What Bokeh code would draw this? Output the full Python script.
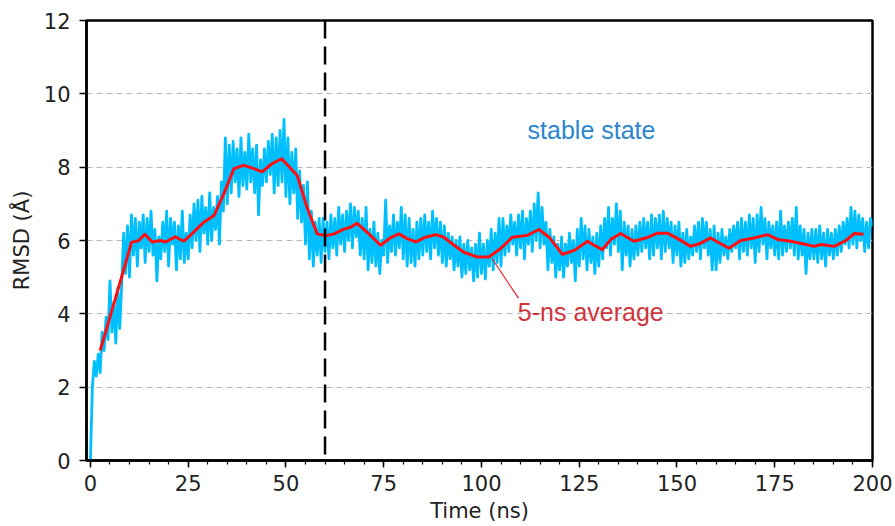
import numpy as np
from bokeh.plotting import figure
from bokeh.models import Range1d, SingleIntervalTicker, Span, Label
from bokeh.embed import file_html
from bokeh.resources import INLINE

# ---------------- data ----------------
# RMSD trace, sampled every 0.5 ns from 0 to 200 ns
rmsd_000_050 = [
    0.0, 2.0, 2.7, 2.3, 2.9, 2.4, 3.5, 3.0, 3.9, 3.3,
    4.9, 3.5, 4.3, 3.2, 4.7, 3.6, 4.8, 6.2, 5.1, 6.4,
    5.0, 6.7, 5.6, 6.6, 5.3, 6.5, 5.8, 6.7, 5.4, 6.6,
    5.7, 6.8, 5.6, 6.3, 4.9, 6.1, 5.5, 6.5, 5.7, 6.8,
    5.3, 6.6, 5.9, 6.5, 5.2, 6.4, 5.5, 6.8, 5.4, 6.2,
    5.5, 6.7, 5.8, 7.0, 6.0, 7.1, 5.7, 7.2, 6.2, 6.9,
    5.9, 7.3, 6.0, 6.9, 6.3, 7.2, 5.9, 7.6, 6.8, 8.8,
    7.0, 8.6, 7.3, 8.7, 7.6, 8.5, 7.2, 8.8, 7.5, 8.4,
    7.4, 8.9, 7.6, 8.5, 7.3, 8.6, 6.7, 8.2, 7.5, 8.5,
    7.6, 8.7, 7.8, 8.9, 7.3, 8.8, 7.5, 9.0, 7.6, 9.3,
]
rmsd_050_100 = [
    7.2, 8.8, 7.0, 8.4, 7.3, 8.5, 6.6, 7.9, 6.5, 7.5,
    5.9, 7.6, 5.5, 6.8, 5.3, 6.5, 5.6, 6.6, 5.4, 6.6,
    5.7, 6.5, 5.5, 6.7, 5.8, 6.6, 5.6, 6.9, 5.9, 6.7,
    5.7, 6.8, 6.0, 7.0, 5.8, 6.9, 6.1, 6.8, 5.6, 6.6,
    5.5, 6.9, 5.2, 6.3, 5.4, 6.5, 5.3, 6.2, 5.1, 6.0,
    5.6, 7.1, 5.4, 6.4, 5.7, 6.7, 5.6, 6.5, 5.8, 6.9,
    5.5, 6.7, 5.3, 6.6, 5.4, 6.3, 5.3, 6.5, 5.5, 6.6,
    5.6, 6.7, 5.7, 6.5, 5.5, 6.8, 5.8, 6.6, 5.6, 6.5,
    5.4, 6.4, 5.3, 6.2, 5.5, 6.1, 5.2, 6.0, 5.3, 6.1,
    5.0, 5.9, 5.1, 6.0, 5.2, 5.8, 4.9, 5.9, 5.0, 6.2,
]
rmsd_100_150 = [
    5.1, 5.9, 4.95, 6.0, 5.3, 6.3, 5.2, 6.2, 5.4, 6.6,
    5.3, 6.6, 5.6, 6.4, 5.7, 6.7, 5.9, 6.5, 5.6, 6.7,
    5.8, 6.8, 5.5, 6.6, 5.9, 6.8, 5.7, 7.0, 6.0, 7.3,
    5.8, 6.9, 5.9, 6.5, 5.2, 6.3, 5.4, 6.1, 5.0, 5.9,
    5.2, 6.1, 5.0, 5.9, 5.3, 6.2, 5.4, 6.0, 4.9, 6.3,
    5.3, 6.6, 5.5, 6.4, 5.2, 6.3, 5.4, 6.1, 5.1, 6.2,
    5.3, 6.4, 5.5, 6.6, 5.8, 6.9, 5.6, 6.6, 5.9, 7.0,
    5.7, 6.8, 5.2, 6.5, 5.6, 6.4, 5.3, 6.3, 5.5, 6.4,
    5.6, 6.5, 5.7, 6.6, 5.8, 6.5, 5.5, 6.7, 5.6, 6.6,
    5.8, 6.7, 5.5, 6.8, 5.7, 6.6, 5.8, 6.5, 5.4, 6.4,
]
rmsd_150_200 = [
    5.6, 6.5, 5.3, 6.2, 5.4, 6.3, 5.5, 6.1, 5.6, 6.4,
    5.7, 6.5, 5.5, 6.6, 5.8, 6.5, 5.6, 6.3, 5.2, 6.4,
    5.2, 6.2, 5.4, 6.3, 5.6, 6.1, 5.5, 6.3, 5.7, 6.4,
    5.8, 6.5, 5.5, 6.6, 5.7, 6.5, 5.6, 6.7, 5.8, 6.6,
    5.4, 6.7, 5.7, 6.9, 5.9, 6.6, 5.5, 6.5, 5.8, 6.4,
    5.6, 6.5, 5.5, 6.8, 5.6, 6.4, 5.7, 6.5, 5.8, 6.6,
    5.6, 6.9, 5.5, 6.4, 5.6, 6.3, 5.1, 6.2, 5.5, 6.3,
    5.5, 6.3, 5.4, 6.4, 5.5, 6.2, 5.3, 6.3, 5.6, 6.2,
    5.5, 6.3, 5.6, 6.4, 5.7, 6.5, 5.9, 6.6, 5.8, 6.9,
    5.9, 6.8, 5.8, 6.7, 6.0, 6.6, 5.7, 6.5, 5.8, 6.6,
    6.4,
]
rmsd = rmsd_000_050 + rmsd_050_100 + rmsd_100_150 + rmsd_150_200
time_step_ns = 0.5
time_ns = [i * time_step_ns for i in range(len(rmsd))]

# 5-ns running average
avg_time = [2.5, 5.1, 8.7, 10.5, 12.4, 13.9, 15.8, 17.9, 19.2, 21.7, 23.9, 26.4,
            29.0, 31.6, 34.1, 36.7, 39.2, 41.8, 43.9, 46.5, 48.9, 52.9, 55.4, 58.0,
            60.1, 62.3, 64.8, 66.5, 68.2, 70.8, 74.2, 76.8, 78.9, 81.0, 83.2, 85.7,
            88.3, 90.4, 93.0, 95.5, 98.9, 101.9, 104.9, 107.9, 111.7, 114.7, 117.3,
            120.7, 123.7, 127.1, 128.8, 130.9, 133.1, 135.6, 139.0, 142.4, 145.0,
            147.6, 150.5, 153.5, 155.7, 158.6, 161.2, 163.3, 166.3, 169.7, 173.2,
            175.7, 179.1, 182.1, 185.1, 186.8, 190.2, 193.2, 195.3, 197.7]
avg_rmsd = [3.0, 3.95, 5.27, 5.95, 6.0, 6.17, 5.96, 6.0, 5.96, 6.1, 5.98, 6.23,
            6.5, 6.68, 7.27, 7.96, 8.05, 7.96, 7.87, 8.1, 8.23, 7.77, 6.9, 6.18,
            6.13, 6.18, 6.31, 6.36, 6.47, 6.22, 5.87, 6.08, 6.18, 6.05, 5.96, 6.09,
            6.16, 6.09, 5.87, 5.68, 5.55, 5.55, 5.78, 6.09, 6.14, 6.3, 6.09,
            5.62, 5.73, 5.98, 5.87, 5.75, 6.03, 6.19, 5.98, 6.08, 6.2,
            6.2, 6.03, 5.84, 5.91, 6.07, 5.91, 5.79, 6.0, 6.07, 6.16,
            6.03, 5.98, 5.91, 5.84, 5.89, 5.84, 6.0, 6.19, 6.17]

stable_start_ns = 60
stable_label = "stable state"
stable_label_pos = (111.8, 9.02)
avg_label = "5-ns average"
avg_label_pos = (109.3, 4.06)
avg_pointer_x = [102.7, 109.5]
avg_pointer_y = [5.51, 4.42]

x_ticks_major = 25
y_ticks_major = 2

# ---------------- figure ----------------
p = figure(width=895, height=526,
           x_range=Range1d(-1, 200), y_range=Range1d(0, 12),
           output_backend="svg", toolbar_location=None,
           min_border_left=86, min_border_right=23,
           min_border_top=20, min_border_bottom=66,
           background_fill_color="white", border_fill_color="white")

p.outline_line_color = "black"
p.outline_line_width = 2.5
p.outline_line_alpha = 1.0

p.xaxis.ticker = SingleIntervalTicker(interval=x_ticks_major, num_minor_ticks=5)
p.yaxis.ticker = SingleIntervalTicker(interval=y_ticks_major, num_minor_ticks=0)

for ax in (p.xaxis[0], p.yaxis[0]):
    ax.axis_line_color = "black"
    ax.axis_line_width = 2.5
    ax.major_tick_in = 0
    ax.major_tick_out = 7
    ax.major_tick_line_width = 1.5
    ax.major_tick_line_color = "black"
    ax.minor_tick_in = 0
    ax.minor_tick_out = 4
    ax.minor_tick_line_width = 1.2
    ax.minor_tick_line_color = "black"
    ax.major_label_text_font = "DejaVu Sans"
    ax.major_label_text_font_size = "21px"
    ax.major_label_text_color = "#222222"
    ax.axis_label_text_font = "DejaVu Sans"
    ax.axis_label_text_font_size = "21px"
    ax.axis_label_text_font_style = "normal"
    ax.axis_label_text_color = "#222222"

p.yaxis.minor_tick_line_color = None
p.xaxis.axis_label = "Time (ns)"
p.yaxis.axis_label = "RMSD (Å)"
p.xaxis.major_label_standoff = 7
p.xaxis.axis_label_standoff = 5
p.yaxis.major_label_standoff = 9
p.yaxis.axis_label_standoff = 7

p.xgrid.grid_line_color = None
p.ygrid.grid_line_color = "#b8b8b8"
p.ygrid.grid_line_dash = "6 4"
p.ygrid.grid_line_width = 1.2

# RMSD trace
p.line(time_ns, rmsd, line_color="#00bfff", line_width=2.8, line_join="round")

# running average
p.line(avg_time, avg_rmsd, line_color="#ff0f0f", line_width=3, line_join="round")

# stable state boundary
p.add_layout(Span(location=stable_start_ns, dimension="height",
                  line_color="black", line_width=2.5, line_dash="18 8"))

# annotations
p.line(avg_pointer_x, avg_pointer_y, line_color="#e8232a", line_width=1.2)
p.add_layout(Label(x=avg_label_pos[0], y=avg_label_pos[1], text=avg_label,
                   text_font="Liberation Sans", text_font_size="25px",
                   text_color="#d0343c", text_baseline="alphabetic"))
p.add_layout(Label(x=stable_label_pos[0], y=stable_label_pos[1], text=stable_label,
                   text_font="Liberation Sans", text_font_size="25px",
                   text_color="#2a86d0", text_baseline="alphabetic"))

open("out.html", "w").write(file_html(p, INLINE))
